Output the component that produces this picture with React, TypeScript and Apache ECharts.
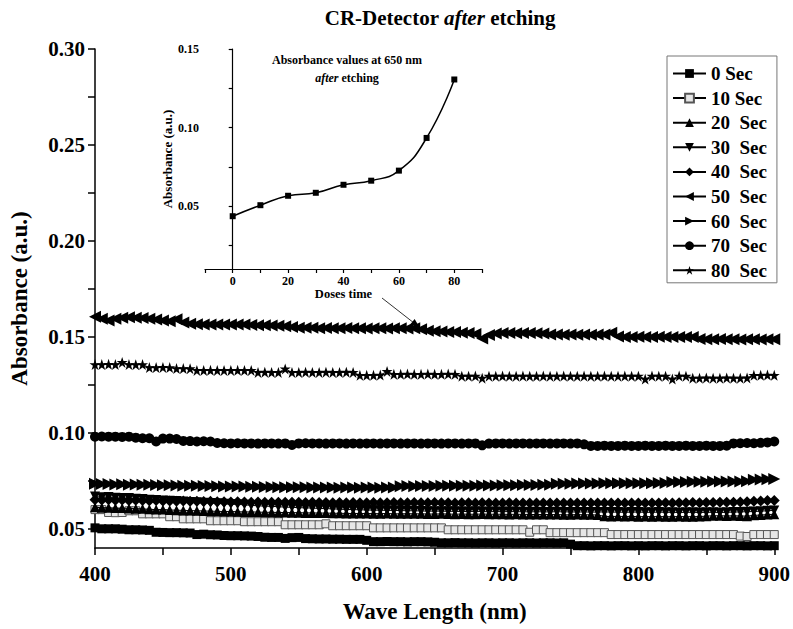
import React, { useEffect, useRef } from "react";
import * as echarts from "echarts";

// ---------- data ----------
const WAVES: number[] = Array.from({ length: 101 }, (_, i) => 400 + i * 5); // 400..900 nm grid (5 nm)

const S0 = [
  0.0505, 0.0500, 0.0500, 0.0500, 0.0498, 0.0495, 0.0495, 0.0494, 0.0492, 0.0482,
  0.0481, 0.0480, 0.0480, 0.0479, 0.0478, 0.0470, 0.0472, 0.0469, 0.0468, 0.0465,
  0.0464, 0.0464, 0.0463, 0.0462, 0.0460, 0.0456, 0.0455, 0.0455, 0.0450, 0.0454,
  0.0455, 0.0449, 0.0448, 0.0447, 0.0447, 0.0446, 0.0446, 0.0445, 0.0445, 0.0445,
  0.0440, 0.0433, 0.0433, 0.0434, 0.0433, 0.0433, 0.0432, 0.0433, 0.0433, 0.0432,
  0.0430, 0.0427, 0.0427, 0.0428, 0.0427, 0.0427, 0.0426, 0.0427, 0.0427, 0.0426,
  0.0427, 0.0427, 0.0426, 0.0427, 0.0427, 0.0426, 0.0427, 0.0427, 0.0426, 0.0427,
  0.0420, 0.0412, 0.0412, 0.0411, 0.0412, 0.0412, 0.0411, 0.0412, 0.0412, 0.0411,
  0.0412, 0.0411, 0.0412, 0.0412, 0.0411, 0.0412, 0.0412, 0.0411, 0.0412, 0.0412,
  0.0411, 0.0412, 0.0412, 0.0411, 0.0412, 0.0412, 0.0411, 0.0412, 0.0412, 0.0411,
  0.0412,
];
const S10 = [
  0.0600, 0.0600, 0.0585, 0.0584, 0.0585, 0.0594, 0.0594, 0.0578, 0.0578, 0.0578,
  0.0578, 0.0563, 0.0563, 0.0552, 0.0552, 0.0552, 0.0552, 0.0542, 0.0542, 0.0542,
  0.0542, 0.0542, 0.0537, 0.0537, 0.0537, 0.0537, 0.0537, 0.0537, 0.0521, 0.0521,
  0.0521, 0.0521, 0.0521, 0.0521, 0.0526, 0.0516, 0.0516, 0.0516, 0.0516, 0.0516,
  0.0516, 0.0505, 0.0505, 0.0505, 0.0505, 0.0505, 0.0505, 0.0505, 0.0505, 0.0505,
  0.0505, 0.0505, 0.0495, 0.0495, 0.0495, 0.0495, 0.0495, 0.0495, 0.0495, 0.0495,
  0.0495, 0.0495, 0.0495, 0.0495, 0.0482, 0.0495, 0.0495, 0.0480, 0.0480, 0.0480,
  0.0480, 0.0480, 0.0480, 0.0480, 0.0480, 0.0480, 0.0470, 0.0470, 0.0470, 0.0470,
  0.0470, 0.0470, 0.0470, 0.0470, 0.0470, 0.0470, 0.0470, 0.0470, 0.0470, 0.0470,
  0.0470, 0.0470, 0.0470, 0.0470, 0.0470, 0.0462, 0.0460, 0.0470, 0.0470, 0.0470,
  0.0470,
];
const S20 = [
  0.0612, 0.0610, 0.0610, 0.0608, 0.0608, 0.0606, 0.0605, 0.0604, 0.0602, 0.0600,
  0.0600, 0.0598, 0.0597, 0.0596, 0.0595, 0.0594, 0.0593, 0.0592, 0.0591, 0.0590,
  0.0590, 0.0589, 0.0588, 0.0588, 0.0587, 0.0586, 0.0586, 0.0585, 0.0585, 0.0584,
  0.0584, 0.0583, 0.0583, 0.0582, 0.0582, 0.0581, 0.0581, 0.0580, 0.0580, 0.0580,
  0.0580, 0.0579, 0.0579, 0.0580, 0.0578, 0.0578, 0.0579, 0.0578, 0.0578, 0.0577,
  0.0577, 0.0578, 0.0577, 0.0576, 0.0577, 0.0576, 0.0576, 0.0577, 0.0576, 0.0576,
  0.0576, 0.0575, 0.0576, 0.0575, 0.0575, 0.0574, 0.0575, 0.0574, 0.0574, 0.0573,
  0.0573, 0.0574, 0.0573, 0.0573, 0.0572, 0.0565, 0.0564, 0.0565, 0.0564, 0.0565,
  0.0563, 0.0564, 0.0563, 0.0564, 0.0563, 0.0563, 0.0564, 0.0563, 0.0563, 0.0564,
  0.0566, 0.0568, 0.0568, 0.0567, 0.0568, 0.0567, 0.0566, 0.0570, 0.0572, 0.0574,
  0.0576,
];
const S30 = [
  0.0668, 0.0665, 0.0666, 0.0662, 0.0660, 0.0661, 0.0657, 0.0655, 0.0652, 0.0650,
  0.0648, 0.0646, 0.0645, 0.0642, 0.0640, 0.0638, 0.0636, 0.0635, 0.0633, 0.0630,
  0.0628, 0.0627, 0.0625, 0.0622, 0.0620, 0.0618, 0.0617, 0.0615, 0.0613, 0.0612,
  0.0610, 0.0609, 0.0608, 0.0606, 0.0605, 0.0604, 0.0602, 0.0601, 0.0600, 0.0599,
  0.0598, 0.0597, 0.0597, 0.0596, 0.0596, 0.0595, 0.0594, 0.0594, 0.0593, 0.0592,
  0.0592, 0.0592, 0.0591, 0.0591, 0.0590, 0.0590, 0.0591, 0.0590, 0.0589, 0.0590,
  0.0589, 0.0590, 0.0589, 0.0589, 0.0588, 0.0589, 0.0588, 0.0588, 0.0589, 0.0588,
  0.0588, 0.0587, 0.0588, 0.0587, 0.0587, 0.0588, 0.0587, 0.0587, 0.0586, 0.0587,
  0.0587, 0.0586, 0.0586, 0.0587, 0.0586, 0.0586, 0.0585, 0.0586, 0.0586, 0.0585,
  0.0586, 0.0586, 0.0585, 0.0586, 0.0587, 0.0588, 0.0589, 0.0590, 0.0592, 0.0594,
  0.0596,
];
const S40 = [
  0.0652, 0.0650, 0.0651, 0.0649, 0.0650, 0.0648, 0.0649, 0.0647, 0.0646, 0.0647,
  0.0645, 0.0645, 0.0644, 0.0645, 0.0643, 0.0643, 0.0642, 0.0643, 0.0641, 0.0641,
  0.0640, 0.0641, 0.0640, 0.0639, 0.0640, 0.0639, 0.0638, 0.0639, 0.0638, 0.0638,
  0.0638, 0.0637, 0.0638, 0.0637, 0.0637, 0.0636, 0.0637, 0.0636, 0.0637, 0.0636,
  0.0636, 0.0637, 0.0636, 0.0636, 0.0637, 0.0636, 0.0636, 0.0637, 0.0636, 0.0636,
  0.0637, 0.0636, 0.0636, 0.0635, 0.0636, 0.0636, 0.0635, 0.0636, 0.0635, 0.0635,
  0.0635, 0.0636, 0.0635, 0.0635, 0.0634, 0.0635, 0.0635, 0.0634, 0.0635, 0.0634,
  0.0634, 0.0635, 0.0634, 0.0634, 0.0635, 0.0634, 0.0634, 0.0635, 0.0634, 0.0634,
  0.0635, 0.0634, 0.0635, 0.0635, 0.0636, 0.0635, 0.0636, 0.0636, 0.0637, 0.0636,
  0.0637, 0.0637, 0.0638, 0.0638, 0.0639, 0.0640, 0.0641, 0.0643, 0.0645, 0.0647,
  0.0648,
];
const S50 = [
  0.1605, 0.1595, 0.1585, 0.1595, 0.1600, 0.1602, 0.1600, 0.1598, 0.1595, 0.1590,
  0.1585, 0.1582, 0.1592, 0.1575, 0.1568, 0.1566, 0.1565, 0.1565, 0.1564, 0.1565,
  0.1565, 0.1564, 0.1565, 0.1562, 0.1560, 0.1560, 0.1559, 0.1558, 0.1555, 0.1552,
  0.1548, 0.1548, 0.1547, 0.1545, 0.1546, 0.1545, 0.1545, 0.1546, 0.1545, 0.1545,
  0.1544, 0.1545, 0.1545, 0.1544, 0.1545, 0.1545, 0.1544, 0.1545, 0.1540, 0.1532,
  0.1530, 0.1528, 0.1526, 0.1525, 0.1522, 0.1520, 0.1515, 0.1492, 0.1510, 0.1518,
  0.1520, 0.1520, 0.1519, 0.1520, 0.1520, 0.1519, 0.1518, 0.1512, 0.1512, 0.1511,
  0.1512, 0.1511, 0.1512, 0.1511, 0.1512, 0.1512, 0.1522, 0.1502, 0.1500, 0.1500,
  0.1501, 0.1500, 0.1500, 0.1501, 0.1500, 0.1500, 0.1499, 0.1500, 0.1500, 0.1489,
  0.1488, 0.1488, 0.1489, 0.1488, 0.1488, 0.1487, 0.1488, 0.1488, 0.1487, 0.1488,
  0.1488,
];
const S60 = [
  0.0735, 0.0733, 0.0734, 0.0731, 0.0732, 0.0730, 0.0731, 0.0729, 0.0729, 0.0728,
  0.0727, 0.0727, 0.0726, 0.0725, 0.0725, 0.0724, 0.0723, 0.0723, 0.0722, 0.0721,
  0.0721, 0.0720, 0.0720, 0.0719, 0.0719, 0.0718, 0.0718, 0.0717, 0.0717, 0.0716,
  0.0716, 0.0716, 0.0715, 0.0715, 0.0715, 0.0715, 0.0714, 0.0715, 0.0715, 0.0714,
  0.0715, 0.0715, 0.0714, 0.0715, 0.0715, 0.0722, 0.0723, 0.0722, 0.0723, 0.0723,
  0.0723, 0.0724, 0.0724, 0.0724, 0.0725, 0.0725, 0.0725, 0.0726, 0.0726, 0.0726,
  0.0727, 0.0727, 0.0727, 0.0728, 0.0728, 0.0728, 0.0729, 0.0729, 0.0735, 0.0735,
  0.0735, 0.0736, 0.0736, 0.0736, 0.0736, 0.0737, 0.0737, 0.0737, 0.0737, 0.0738,
  0.0738, 0.0738, 0.0738, 0.0739, 0.0739, 0.0744, 0.0744, 0.0744, 0.0745, 0.0745,
  0.0745, 0.0746, 0.0746, 0.0746, 0.0747, 0.0747, 0.0748, 0.0755, 0.0757, 0.0758,
  0.0760,
];
const S70 = [
  0.0980, 0.0981, 0.0980, 0.0980, 0.0979, 0.0980, 0.0975, 0.0972, 0.0972, 0.0955,
  0.0970, 0.0970, 0.0968, 0.0958, 0.0957, 0.0955, 0.0956, 0.0955, 0.0947, 0.0946,
  0.0945, 0.0946, 0.0945, 0.0945, 0.0944, 0.0945, 0.0945, 0.0944, 0.0945, 0.0937,
  0.0945, 0.0946, 0.0945, 0.0945, 0.0944, 0.0945, 0.0945, 0.0944, 0.0945, 0.0944,
  0.0945, 0.0945, 0.0944, 0.0945, 0.0945, 0.0944, 0.0945, 0.0945, 0.0944, 0.0945,
  0.0945, 0.0944, 0.0945, 0.0945, 0.0944, 0.0945, 0.0945, 0.0935, 0.0944, 0.0945,
  0.0945, 0.0944, 0.0945, 0.0945, 0.0944, 0.0945, 0.0945, 0.0944, 0.0945, 0.0945,
  0.0944, 0.0945, 0.0940, 0.0932, 0.0932, 0.0933, 0.0932, 0.0932, 0.0933, 0.0932,
  0.0932, 0.0933, 0.0932, 0.0932, 0.0933, 0.0932, 0.0932, 0.0933, 0.0932, 0.0932,
  0.0933, 0.0932, 0.0932, 0.0933, 0.0945, 0.0946, 0.0947, 0.0946, 0.0948, 0.0950,
  0.0955,
];
const S80 = [
  0.1356, 0.1356, 0.1357, 0.1356, 0.1367, 0.1356, 0.1355, 0.1356, 0.1340, 0.1340,
  0.1341, 0.1340, 0.1335, 0.1335, 0.1334, 0.1325, 0.1325, 0.1326, 0.1325, 0.1325,
  0.1325, 0.1326, 0.1325, 0.1325, 0.1315, 0.1316, 0.1315, 0.1315, 0.1333, 0.1315,
  0.1315, 0.1316, 0.1315, 0.1315, 0.1316, 0.1315, 0.1315, 0.1316, 0.1315, 0.1300,
  0.1300, 0.1300, 0.1301, 0.1320, 0.1305, 0.1305, 0.1306, 0.1305, 0.1305, 0.1306,
  0.1305, 0.1305, 0.1306, 0.1305, 0.1295, 0.1295, 0.1296, 0.1285, 0.1295, 0.1295,
  0.1296, 0.1295, 0.1295, 0.1296, 0.1295, 0.1295, 0.1296, 0.1295, 0.1295, 0.1296,
  0.1295, 0.1295, 0.1296, 0.1295, 0.1295, 0.1296, 0.1295, 0.1295, 0.1296, 0.1295,
  0.1295, 0.1280, 0.1296, 0.1295, 0.1295, 0.1280, 0.1296, 0.1295, 0.1285, 0.1285,
  0.1286, 0.1285, 0.1285, 0.1286, 0.1285, 0.1285, 0.1286, 0.1300, 0.1300, 0.1301,
  0.1300,
];

const SERIES_NAMES = ["0 Sec", "10 Sec", "20  Sec", "30  Sec", "40  Sec", "50  Sec", "60  Sec", "70  Sec", "80  Sec"];
const SERIES_VALUES = [S0, S10, S20, S30, S40, S50, S60, S70, S80];

// inset: absorbance at 650 nm vs dose time
const DOSES = [0, 10, 20, 30, 40, 50, 60, 70, 80];
const ABS_650 = [0.0436, 0.0506, 0.0566, 0.0585, 0.0636, 0.0662, 0.0726, 0.0934, 0.1306];

// ticks / labels
const X_LABELS = [400, 500, 600, 700, 800, 900];
const X_TICKS = [400, 450, 500, 550, 600, 650, 700, 750, 800, 850, 900];
const Y_LABELS = [0.05, 0.1, 0.15, 0.2, 0.25, 0.3];
const Y_TICKS = [0.05, 0.075, 0.1, 0.125, 0.15, 0.175, 0.2, 0.225, 0.25, 0.275, 0.3];
const IX_LABELS = [0, 20, 40, 60, 80];
const IX_TICKS = [-10, 0, 10, 20, 30, 40, 50, 60, 70, 80, 90];
const IY_LABELS = [0.05, 0.1, 0.15];
const IY_TICKS = [0.025, 0.05, 0.075, 0.1, 0.125, 0.15];

// ---------- styling ----------
const FONT = '"Liberation Serif", "Times New Roman", Times, serif';
const STAR = "path://M5,0L6.2,3.6L10,3.6L6.9,5.8L8.1,9.6L5,7.3L1.9,9.6L3.1,5.8L0,3.6L3.8,3.6Z";
const MARKERS = [
  { symbol: "rect", size: 9, rotate: 0 },
  { symbol: "rect", size: 8, rotate: 0, open: true },
  { symbol: "triangle", size: 10, rotate: 0 },
  { symbol: "triangle", size: 10, rotate: 180 },
  { symbol: "diamond", size: 11, rotate: 0 },
  { symbol: "triangle", size: 12, rotate: 90 },
  { symbol: "triangle", size: 12, rotate: -90 },
  { symbol: "circle", size: 10, rotate: 0 },
  { symbol: STAR, size: 11, rotate: 0 },
];

export default function App() {
  const ref = useRef<HTMLDivElement>(null);

  useEffect(() => {
    document.body.style.margin = "0";
    if (!ref.current) return;
    const chart = echarts.init(ref.current, undefined, { renderer: "svg" });

    const boldText = (size: number) => ({
      fontFamily: FONT,
      fontWeight: "bold" as const,
      fontSize: size,
      color: "#000",
    });
    const axisLineStyle = { color: "#000", width: 1.5 };

    const mainSeries = SERIES_NAMES.map((name, k) => {
      const m = MARKERS[k];
      return {
        name,
        type: "line",
        xAxisIndex: 0,
        yAxisIndex: 0,
        data: WAVES.map((w, i) => [w, SERIES_VALUES[k][i]]),
        symbol: m.symbol,
        symbolSize: m.size,
        symbolRotate: m.rotate,
        showAllSymbol: true,
        lineStyle: { color: "#000", width: 1 },
        itemStyle: m.open
          ? { color: "#e6e6e6", borderColor: "#555", borderWidth: 1 }
          : { color: "#000", borderWidth: 0 },
        emphasis: { disabled: true },
        z: 2 + k,
      };
    });

    const option: any = {
      animation: false,
      backgroundColor: "#fff",
      grid: [
        { left: 95, right: 17, top: 49, bottom: 81 },
        { left: 205, top: 49, width: 277, height: 220 },
      ],
      legend: {
        orient: "vertical",
        left: 667,
        top: 56,
        padding: [8, 10, 3, 5],
        itemWidth: 33,
        itemHeight: 11,
        itemGap: 5.6,
        borderColor: "#777",
        borderWidth: 1,
        selectedMode: false,
        textStyle: { ...boldText(19), lineHeight: 19 },
        data: SERIES_NAMES,
      },
      xAxis: [
        {
          type: "value",
          gridIndex: 0,
          min: 400,
          max: 900,
          name: "Wave Length (nm)",
          nameLocation: "middle",
          nameGap: 52,
          nameTextStyle: boldText(23),
          axisLine: { lineStyle: axisLineStyle },
          axisTick: { customValues: X_TICKS, length: 7, lineStyle: axisLineStyle },
          axisLabel: { customValues: X_LABELS, margin: 15, ...boldText(21) },
          splitLine: { show: false },
        },
        {
          type: "value",
          gridIndex: 1,
          min: -10,
          max: 90,
          name: "Doses time",
          nameLocation: "middle",
          nameGap: 17,
          nameTextStyle: boldText(12.5),
          axisLine: { lineStyle: { color: "#000", width: 1.2 } },
          axisTick: { customValues: IX_TICKS, length: 4, lineStyle: { color: "#000", width: 1.2 } },
          axisLabel: { customValues: IX_LABELS, margin: 6, ...boldText(12) },
          splitLine: { show: false },
        },
      ],
      yAxis: [
        {
          type: "value",
          gridIndex: 0,
          min: 0.04,
          max: 0.3,
          name: "Absorbance (a.u.)",
          nameLocation: "middle",
          nameGap: 64,
          nameTextStyle: boldText(23),
          axisLine: { show: true, lineStyle: axisLineStyle },
          axisTick: { show: true, customValues: Y_TICKS, length: 7, lineStyle: axisLineStyle },
          axisLabel: {
            customValues: Y_LABELS,
            margin: 10,
            formatter: (v: number) => v.toFixed(2),
            ...boldText(21),
          },
          splitLine: { show: false },
        },
        {
          type: "value",
          gridIndex: 1,
          min: 0.01,
          max: 0.15,
          name: "Absorbance (a.u.)",
          nameLocation: "middle",
          nameGap: 27,
          nameTextStyle: boldText(13),
          axisLine: { show: true, lineStyle: { color: "#000", width: 1.2 } },
          axisTick: { show: true, customValues: IY_TICKS, length: 4, lineStyle: { color: "#000", width: 1.2 } },
          axisLabel: {
            customValues: IY_LABELS,
            margin: 6,
            formatter: (v: number) => v.toFixed(2),
            ...boldText(12),
          },
          splitLine: { show: false },
        },
      ],
      series: [
        ...mainSeries,
        {
          name: "Absorbance at 650 nm",
          type: "line",
          xAxisIndex: 1,
          yAxisIndex: 1,
          smooth: 0.5,
          data: DOSES.map((d, i) => [d, ABS_650[i]]),
          symbol: "rect",
          symbolSize: 6,
          lineStyle: { color: "#000", width: 1.5 },
          itemStyle: { color: "#000" },
          emphasis: { disabled: true },
          z: 20,
        },
      ],
      graphic: [
        {
          type: "text",
          x: 440,
          y: 18,
          style: {
            text: "{b|CR-Detector }{i|after}{b| etching}",
            align: "center",
            verticalAlign: "middle",
            rich: {
              b: { ...boldText(21), fill: "#000" },
              i: { ...boldText(21), fontStyle: "italic", fill: "#000" },
            },
          },
        },
        {
          type: "text",
          x: 347,
          y: 69,
          style: {
            text: "{b|Absorbance values at 650 nm}\n{i|after}{b| etching}",
            align: "center",
            verticalAlign: "middle",
            rich: {
              b: { ...boldText(12), fill: "#000", lineHeight: 18 },
              i: { ...boldText(12), fontStyle: "italic", fill: "#000", lineHeight: 18 },
            },
          },
        },
        {
          type: "line",
          shape: { x1: 382, y1: 298, x2: 414, y2: 323 },
          style: { stroke: "#333", lineWidth: 1 },
        },
        {
          type: "polygon",
          shape: { points: [[420, 328], [410.2, 324.6], [414.6, 319.0]] },
          style: { fill: "#000" },
        },
      ],
    };

    chart.setOption(option);
    return () => chart.dispose();
  }, []);

  return (
    <div
      ref={ref}
      style={{ position: "fixed", left: 0, top: 0, width: 793, height: 629, background: "#fff" }}
    />
  );
}
